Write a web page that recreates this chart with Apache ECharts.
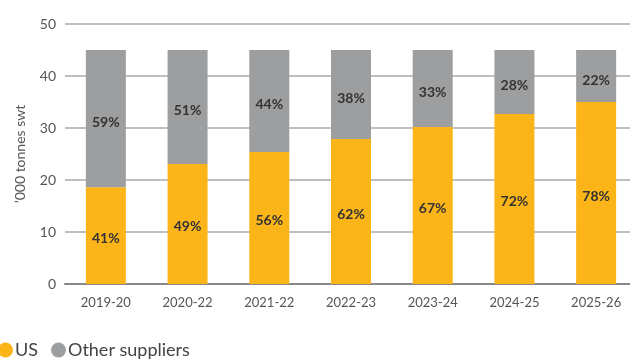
<!DOCTYPE html>
<html>
<head>
<meta charset="utf-8">
<script src="https://cdn.jsdelivr.net/npm/echarts@6/dist/echarts.min.js"></script>
<style>
  html, body { margin: 0; padding: 0; background: #fff; }
  #chart { width: 630px; height: 360px; }
</style>
</head>
<body>
<div id="chart"></div>
<script>
const years = ['2019-20', '2020-22', '2021-22', '2022-23', '2023-24', '2024-25', '2025-26'];
const usValues = [18.6, 23.1, 25.4, 27.9, 30.2, 32.7, 35.0];
const otherValues = [26.4, 21.9, 19.6, 17.1, 14.8, 12.3, 10.0];
const usShare = ['41%', '49%', '56%', '62%', '67%', '72%', '78%'];
const otherShare = ['59%', '51%', '44%', '38%', '33%', '28%', '22%'];

const font = 'Lato, "Open Sans", sans-serif';
let chart = echarts.init(document.getElementById('chart'));

const labelStyle = (texts, dy) => ({
    show: true,
    position: 'inside',
    offset: [0, dy],
    formatter: p => texts[p.dataIndex],
    color: '#333',
    fontWeight: 'bold',
    fontSize: 14,
    fontFamily: font
});

let option = {
    animation: false,
    textStyle: { fontFamily: font },
    grid: { left: 65, width: 572, top: 24, bottom: 76, outerBoundsMode: 'none' },
    legend: {
        left: -7,
        bottom: -4,
        icon: 'circle',
        itemWidth: 15,
        itemHeight: 15,
        itemGap: 13,
        textStyle: { fontSize: 18, color: '#444', fontFamily: font, padding: [0, 0, 0, -3] },
        data: ['US', 'Other suppliers']
    },
    xAxis: {
        type: 'category',
        data: years,
        axisLine: { lineStyle: { color: '#888', width: 2 } },
        axisTick: { show: false },
        axisLabel: { color: '#555', fontSize: 13, margin: 12 }
    },
    yAxis: {
        type: 'value',
        min: 0, max: 50, interval: 10,
        name: '\u2019000 tonnes swt',
        nameLocation: 'middle',
        nameGap: 38,
        nameTextStyle: { color: '#555', fontSize: 14 },
        axisLabel: { color: '#555', fontSize: 14, margin: 9 },
        splitLine: { lineStyle: { color: '#aaa', width: 1.5 } }
    },
    series: [
        {
            name: 'US',
            type: 'bar',
            stack: 'total',
            barWidth: 40,
            itemStyle: { color: '#FBB519' },
            label: labelStyle(usShare, 3),
            data: usValues
        },
        {
            name: 'Other suppliers',
            type: 'bar',
            stack: 'total',
            barWidth: 40,
            itemStyle: { color: '#9D9EA0' },
            label: labelStyle(otherShare, 4),
            data: otherValues
        }
    ]
};

chart.setOption(option);
</script>
</body>
</html>
